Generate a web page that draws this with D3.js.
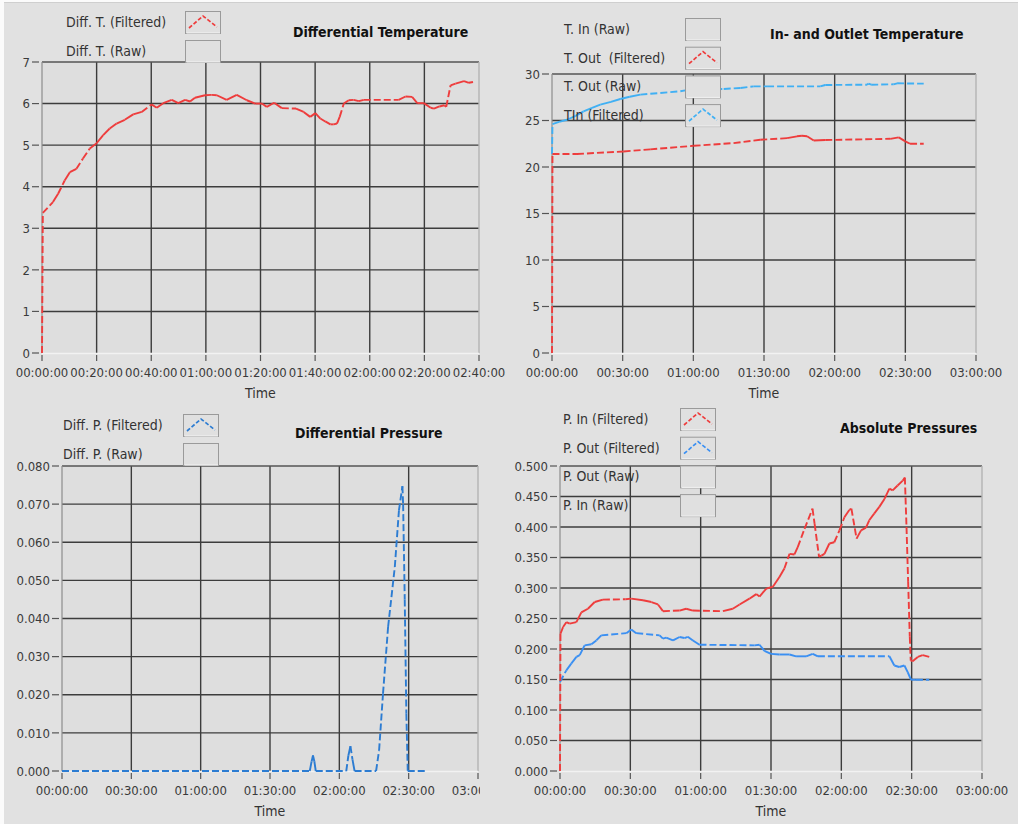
<!DOCTYPE html>
<html><head><meta charset="utf-8">
<script src="https://cdn.jsdelivr.net/npm/d3@7"></script>
<style>
body{margin:0;background:#e1e1e1;}
svg{display:block;}
text{font-family:"DejaVu Sans Condensed","DejaVu Sans",sans-serif;font-stretch:condensed;white-space:pre;}
</style>
</head><body>
<svg id="c" width="1018" height="824"></svg>
<script>
// ---------- DATA (time in minutes) ----------
// Panel 1: Differential Temperature
const dtTime = [0,0.3,4.0,5.9,8.3,10.2,12.6,15.0,17.5,19.9,22.4,24.8,27.3,30.3,33.4,36.5,40.1,42.0,44.4,47.5,49.9,52.4,54.2,56.0,59.7,62.0,64.0,67.6,71.3,75.0,78.1,80.5,82.3,85.0,87.8,93.0,95.8,98.2,100.1,101.9,103.7,105.6,106.8,108.0,109.0,110.5,112.3,114.1,116.0,117.8,130.6,133.1,135.5,137.4,139.8,142.3,143.5,145.5,147.3,148.0,149.6,151.4,154.5,156.3,157.8];
const dtFiltered = [0,3.37,3.63,3.83,4.15,4.35,4.43,4.68,4.92,5.04,5.24,5.40,5.52,5.61,5.74,5.80,5.98,5.90,6.01,6.09,6.01,6.09,6.05,6.14,6.20,6.21,6.20,6.09,6.21,6.08,6.00,6.00,5.92,6.02,5.89,5.88,5.80,5.68,5.77,5.64,5.57,5.50,5.50,5.52,5.68,6.00,6.08,6.09,6.06,6.09,6.09,6.17,6.16,6.01,6.01,5.90,5.88,5.93,5.96,5.92,6.44,6.48,6.54,6.50,6.52];
const dtXTicks = [0,20,40,60,80,100,120,140,160];
const dtYTicks = [0,1,2,3,4,5,6,7];

// Panel 2: In- and Outlet Temperature
const tOutTime = [0,0.2,10.6,30.4,41.7,60.1,77.1,88.4,99.8,104,106.1,108.3,111.1,116,143.6,147.2,150,152,157.8];
const tOutFiltered = [0,21.4,21.4,21.67,21.9,22.28,22.57,22.93,23.1,23.3,23.36,23.3,22.85,22.9,23.03,23.18,22.75,22.5,22.5];
const tInTime = [0,0.2,3,6.4,10,13.4,17,20.5,25,29.0,33,37.5,46,54.5,56.6,72.9,80,85.6,91.3,113.9,116,133.7,134.4,135.5,145,146.5,157.8];
const tInFiltered = [21.4,24.6,24.85,25.08,25.5,25.98,26.35,26.7,27.0,27.31,27.55,27.78,27.96,28.14,28.24,28.39,28.5,28.67,28.67,28.67,28.82,28.85,28.96,28.85,28.89,29.0,28.96];
const tXTicks = [0,30,60,90,120,150,180];
const tYTicks = [0,5,10,15,20,25,30];

// Panel 3: Differential Pressure
const dpTime = [0,107.2,108.0,108.6,109.2,109.8,123.0,123.9,124.8,125.7,126.6,135.9,137.2,138.9,141.1,144.0,145.8,147.3,147.6,148.3,149.0,149.6,157.6];
const dpFiltered = [0,0,0.0025,0.0041,0.0025,0,0,0.004,0.0065,0.003,0,0,0.0054,0.0203,0.0378,0.0535,0.0684,0.0747,0.070,0.045,0.015,0,0];
const dpYTicks = [0,0.01,0.02,0.03,0.04,0.05,0.06,0.07,0.08];

// Panel 4: Absolute Pressures
const pInTime = [0,0.2,1.3,2.7,4.1,7.0,9.1,11.9,14.8,18.3,28.0,30.4,35.4,39.0,41.8,43.9,51.0,53.8,56.7,69.5,73.7,76.6,80.8,83.7,85.1,88.0,90.8,93.6,95.7,97.9,100.0,101.4,104.3,107.7,108.6,110.5,111.5,112.8,114.9,117.0,119.2,121.3,123.4,124.3,126.5,128.4,130.5,131.9,134.0,136.2,138.4,140.5,141.9,144.0,146.2,147.1,147.8,148.5,149.2,149.6,150.4,152.6,154.7,157.5];
const pInFiltered = [0,0.225,0.236,0.244,0.2415,0.244,0.26,0.266,0.277,0.281,0.2815,0.2825,0.28,0.277,0.273,0.262,0.263,0.266,0.263,0.262,0.266,0.273,0.2825,0.29,0.286,0.299,0.302,0.318,0.332,0.356,0.355,0.367,0.397,0.430,0.405,0.351,0.353,0.356,0.373,0.375,0.3945,0.416,0.428,0.430,0.381,0.3945,0.399,0.411,0.422,0.433,0.446,0.463,0.46,0.468,0.476,0.481,0.40,0.31,0.22,0.181,0.18,0.187,0.19,0.187];
const pOutTime = [0,2.7,4.8,7.0,8.4,10.5,13.4,15.5,17.6,28.3,30.4,32.5,42.5,43.9,45.3,48.2,51.0,53.1,54.5,56.7,59.5,83.0,85.1,87.2,90.0,93.6,97.9,100.7,105.0,107.8,110.0,140.5,142.6,144.7,146.9,148.3,149.7,151.8,157.5];
const pOutFiltered = [0.146,0.165,0.176,0.187,0.19,0.206,0.2077,0.214,0.2224,0.226,0.232,0.226,0.2224,0.217,0.2186,0.214,0.2197,0.218,0.22,0.214,0.207,0.206,0.207,0.197,0.192,0.191,0.191,0.188,0.188,0.192,0.188,0.188,0.173,0.1705,0.173,0.162,0.1497,0.1497,0.1497];
const apYTicks = [0,0.05,0.1,0.15,0.2,0.25,0.3,0.35,0.4,0.45,0.5];

const legendDT = ["Diff. T. (Filtered)","Diff. T. (Raw)"];
const legendT  = ["T. In (Raw)","T. Out  (Filtered)","T. Out (Raw)","TIn (Filtered)"];
const legendDP = ["Diff. P. (Filtered)","Diff. P. (Raw)"];
const legendAP = ["P. In (Filtered)","P. Out (Filtered)","P. Out (Raw)","P. In (Raw)"];

// ---------- STYLE ----------
const RED = "#ee3c3c", LBLUE = "#40b0f4", DBLUE = "#2c7cd2", MBLUE = "#3a8ff2";
const pad = n => String(n).padStart(2,"0");
const timeFmt = m => pad(Math.floor(m/60)) + ":" + pad(m%60) + ":00";

const svg = d3.select("#c");
svg.append("rect").attr("width",1018).attr("height",824).attr("fill","#e1e1e1");
svg.append("rect").attr("x",0).attr("y",0).attr("width",1018).attr("height",2).attr("fill","#fbfbfb");
svg.append("line").attr("x1",4).attr("x2",1018).attr("y1",2.5).attr("y2",2.5).attr("stroke","#cfcfcf");
svg.append("rect").attr("x",0).attr("y",0).attr("width",4).attr("height",824).attr("fill","#fbfbfb");

svg.append("defs").append("clipPath").attr("id","clip3")
  .append("rect").attr("x",0).attr("y",0).attr("width",480).attr("height",824);

const panels = [
  {title:"Differential Temperature", tx:293, ty:37, L:42, R:479, T:62, B:353, xMax:160, xTicks:dtXTicks,
   yMax:7, yTicks:dtYTicks, yFmt:d3.format("d"),
   series:[{t:dtTime, v:dtFiltered, c:RED}],
   legend:legendDT, legendColors:[RED,null], lx:66, bx:185, by:11, step:29},
  {title:"In- and Outlet Temperature", tx:770, ty:39, L:552, R:976, T:74, B:353, xMax:180, xTicks:tXTicks,
   yMax:30, yTicks:tYTicks, yFmt:d3.format("d"),
   series:[{t:tInTime, v:tInFiltered, c:LBLUE},{t:tOutTime, v:tOutFiltered, c:RED}],
   legend:legendT, legendColors:[null,RED,null,LBLUE], lx:564, bx:685, by:18, step:28.7},
  {title:"Differential Pressure", tx:295, ty:438, L:62, R:478, T:466, B:771, xMax:180, xTicks:tXTicks,
   yMax:0.08, yTicks:dpYTicks, yFmt:d3.format(".3f"),
   series:[{t:dpTime, v:dpFiltered, c:DBLUE}],
   legend:legendDP, legendColors:[DBLUE,null], lx:63, bx:183, by:414, step:29, clip:"clip3"},
  {title:"Absolute Pressures", tx:840, ty:433, L:560, R:982, T:466, B:771, xMax:180, xTicks:tXTicks,
   yMax:0.5, yTicks:apYTicks, yFmt:d3.format(".3f"),
   series:[{t:pOutTime, v:pOutFiltered, c:MBLUE},{t:pInTime, v:pInFiltered, c:RED}],
   legend:legendAP, legendColors:[RED,MBLUE,null,null], lx:563, bx:680, by:408, step:28.7}
];

panels.forEach(p => {
  const x = d3.scaleLinear().domain([0,p.xMax]).range([p.L,p.R]);
  const y = d3.scaleLinear().domain([0,p.yMax]).range([p.B,p.T]);
  const g = svg.append("g");

  g.append("rect").attr("x",p.L).attr("y",p.T).attr("width",p.R-p.L).attr("height",p.B-p.T).attr("fill","#dedede");

  g.selectAll(".vg").data(p.xTicks.filter(d => d>0 && d<p.xMax)).join("line")
    .attr("x1",d=>x(d)).attr("x2",d=>x(d)).attr("y1",p.T).attr("y2",p.B)
    .attr("stroke","#3c3c3c").attr("stroke-width",1.4);
  g.selectAll(".hg").data(p.yTicks.filter(d => d>0 && d<p.yMax)).join("line")
    .attr("y1",d=>y(d)).attr("y2",d=>y(d)).attr("x1",p.L).attr("x2",p.R)
    .attr("stroke","#3c3c3c").attr("stroke-width",1.4);
  g.append("line").attr("x1",p.L).attr("x2",p.R).attr("y1",p.T).attr("y2",p.T).attr("stroke","#555").attr("stroke-width",1.4);
  g.append("line").attr("x1",p.L).attr("x2",p.L).attr("y1",p.T).attr("y2",p.B).attr("stroke","#8c8c8c").attr("stroke-width",1.2);
  g.append("line").attr("x1",p.R).attr("x2",p.R).attr("y1",p.T).attr("y2",p.B).attr("stroke","#b4b4b4").attr("stroke-width",1.4);
  g.append("line").attr("x1",p.L).attr("x2",p.R).attr("y1",p.B+0.5).attr("y2",p.B+0.5).attr("stroke","#f2f2f2").attr("stroke-width",1.4);

  // series, drawn segment by segment (long segments dashed, short ones solid)
  const seg = d3.line().x(d=>x(d[0])).y(d=>y(d[1]));
  p.series.forEach(s => {
    const pts = d3.zip(s.t, s.v);
    for (let i=1;i<pts.length;i++){
      const a = pts[i-1], b = pts[i];
      const len = Math.hypot(x(b[0])-x(a[0]), y(b[1])-y(a[1]));
      g.append("path").attr("d", seg([a,b])).attr("fill","none")
        .attr("stroke", s.c).attr("stroke-width",1.9).attr("stroke-linecap","butt")
        .attr("stroke-dasharray", len > 12 ? "7,3" : null);
    }
  });

  p.legend.forEach((lab,i) => {
    const top = p.by + i*p.step;
    g.append("rect").attr("x",p.bx+0.5).attr("y",top+0.5).attr("width",35).attr("height",22)
      .attr("fill","#e0e0e0").attr("stroke","#9a9a9a").attr("stroke-width",1);
    g.append("line").attr("x1",p.bx+1.5).attr("x2",p.bx+35).attr("y1",top+22).attr("y2",top+22).attr("stroke","#f5f5f5");
    const c = p.legendColors[i];
    if (c) {
      g.append("path").attr("d", d3.line()([[p.bx+4,top+17],[p.bx+18,top+5],[p.bx+32,top+16]]))
        .attr("fill","none").attr("stroke",c).attr("stroke-width",1.7).attr("stroke-dasharray","4,2");
    }
    g.append("text").attr("x",p.lx).attr("y",top+11).attr("dy","0.36em")
      .attr("font-size",14).attr("fill","#333").text(lab);
  });

  const ya = g.append("g");
  ya.selectAll("line").data(p.yTicks).join("line")
    .attr("x1",p.L-10).attr("x2",p.L-3).attr("y1",d=>y(d)).attr("y2",d=>y(d)).attr("stroke","#555").attr("stroke-width",1.2);
  ya.selectAll("text").data(p.yTicks).join("text")
    .attr("x",p.L-12).attr("y",d=>y(d)).attr("dy","0.36em").attr("text-anchor","end")
    .attr("font-size",13).attr("fill","#3a3a3a").text(p.yFmt);

  const xa = g.append("g");
  if (p.clip) xa.attr("clip-path","url(#"+p.clip+")");
  xa.selectAll("line").data(p.xTicks).join("line")
    .attr("x1",d=>x(d)).attr("x2",d=>x(d)).attr("y1",p.B+2).attr("y2",p.B+8).attr("stroke","#555").attr("stroke-width",1.2);
  xa.selectAll("text").data(p.xTicks).join("text")
    .attr("x",d=>x(d)).attr("y",p.B+19).attr("dy","0.36em").attr("text-anchor","middle")
    .attr("font-size",13).attr("fill","#3a3a3a").text(timeFmt);

  g.append("text").attr("x",(p.L+p.R)/2).attr("y",p.B+45).attr("text-anchor","middle")
    .attr("font-size",14).attr("fill","#333").text("Time");

  g.append("text").attr("x",p.tx).attr("y",p.ty).attr("font-size",14).attr("font-weight","bold")
    .attr("fill","#111").text(p.title);
});
</script>
</body></html>
